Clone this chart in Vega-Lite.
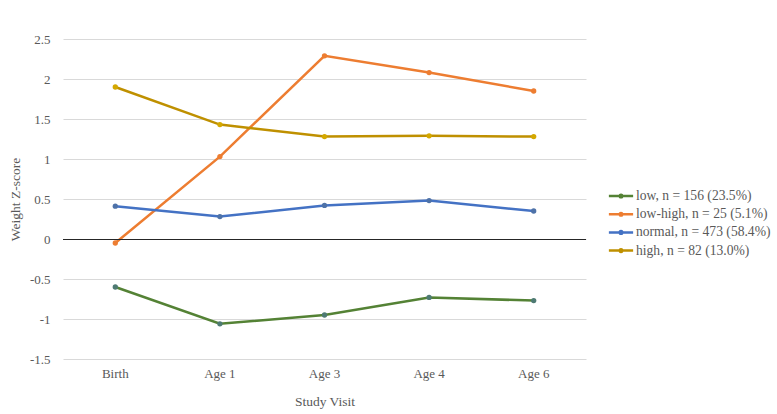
{
  "$schema": "https://vega.github.io/schema/vega-lite/v6.json",
  "width": 523,
  "height": 320,
  "autosize": {"type": "none"},
  "padding": {"left": 63, "top": 39, "right": 191, "bottom": 55},
  "background": "white",
  "config": {
    "view": {"stroke": null},
    "font": "Liberation Serif",
    "axis": {"labelFont": "Liberation Serif", "titleFont": "Liberation Serif", "labelColor": "#595959", "titleColor": "#595959", "labelFontSize": 13, "titleFontSize": 13.5, "titleFontWeight": "normal", "labelOverlap": false},
    "legend": {"labelFont": "Liberation Serif", "labelColor": "#595959", "labelFontSize": 13.6, "labelLimit": 300}
  },
  "data": {"values": [
    {"visit": "Birth", "group": "low, n = 156 (23.5%)", "z": -0.6},
    {"visit": "Age 1", "group": "low, n = 156 (23.5%)", "z": -1.06},
    {"visit": "Age 3", "group": "low, n = 156 (23.5%)", "z": -0.95},
    {"visit": "Age 4", "group": "low, n = 156 (23.5%)", "z": -0.73},
    {"visit": "Age 6", "group": "low, n = 156 (23.5%)", "z": -0.77},
    {"visit": "Birth", "group": "low-high, n = 25 (5.1%)", "z": -0.05},
    {"visit": "Age 1", "group": "low-high, n = 25 (5.1%)", "z": 1.03},
    {"visit": "Age 3", "group": "low-high, n = 25 (5.1%)", "z": 2.29},
    {"visit": "Age 4", "group": "low-high, n = 25 (5.1%)", "z": 2.08},
    {"visit": "Age 6", "group": "low-high, n = 25 (5.1%)", "z": 1.85},
    {"visit": "Birth", "group": "normal, n = 473 (58.4%)", "z": 0.41},
    {"visit": "Age 1", "group": "normal, n = 473 (58.4%)", "z": 0.28},
    {"visit": "Age 3", "group": "normal, n = 473 (58.4%)", "z": 0.42},
    {"visit": "Age 4", "group": "normal, n = 473 (58.4%)", "z": 0.48},
    {"visit": "Age 6", "group": "normal, n = 473 (58.4%)", "z": 0.35},
    {"visit": "Birth", "group": "high, n = 82 (13.0%)", "z": 1.9},
    {"visit": "Age 1", "group": "high, n = 82 (13.0%)", "z": 1.43},
    {"visit": "Age 3", "group": "high, n = 82 (13.0%)", "z": 1.28},
    {"visit": "Age 4", "group": "high, n = 82 (13.0%)", "z": 1.29},
    {"visit": "Age 6", "group": "high, n = 82 (13.0%)", "z": 1.28}
  ]},
  "encoding": {
    "x": {"field": "visit", "type": "ordinal", "sort": ["Birth", "Age 1", "Age 3", "Age 4", "Age 6"], "scale": {"type": "band", "paddingInner": 0, "paddingOuter": 0},
      "axis": {"title": "Study Visit", "domain": false, "ticks": false, "grid": false, "labelAngle": 0, "labelPadding": 8, "titlePadding": 14, "labelFont": "Liberation Serif", "titleFont": "Liberation Serif"}},
    "y": {"field": "z", "type": "quantitative", "scale": {"domain": [-1.5, 2.5], "nice": false, "zero": false},
      "axis": {"title": "Weight Z-score", "values": [-1.5, -1, -0.5, 0, 0.5, 1, 1.5, 2, 2.5], "labelExpr": "datum.value + ''", "domain": false, "ticks": false, "grid": true, "gridColor": "#d9d9d9", "labelPadding": 13, "titlePadding": 7, "labelOverlap": false, "labelFont": "Liberation Serif", "titleFont": "Liberation Serif"}}
  },
  "layer": [
    {
      "mark": {"type": "line", "strokeWidth": 2.5},
      "encoding": {
        "color": {"field": "group", "type": "nominal",
          "scale": {"domain": ["low, n = 156 (23.5%)", "low-high, n = 25 (5.1%)", "normal, n = 473 (58.4%)", "high, n = 82 (13.0%)"], "range": ["#548235", "#ED7D31", "#4472C4", "#BF9000"]},
          "legend": {"title": null, "orient": "none", "legendX": 548, "legendY": 147, "symbolType": "M-1.4,0H1.4M-0.15,0a0.15,0.15 0 1,0 0.3,0a0.15,0.15 0 1,0 -0.3,0", "symbolStrokeWidth": 2.5, "symbolSize": 300, "rowPadding": 1.2, "labelOffset": 5, "labelFont": "Liberation Serif"}}
      }
    },
    {
      "mark": {"type": "circle", "size": 28, "opacity": 1},
      "encoding": {
        "fill": {"field": "group", "type": "nominal",
          "scale": {"domain": ["low, n = 156 (23.5%)", "low-high, n = 25 (5.1%)", "normal, n = 473 (58.4%)", "high, n = 82 (13.0%)"], "range": ["#4E7A73", "#ED7D31", "#4E72A8", "#D4A800"]},
          "legend": null}
      }
    },
    {
      "mark": {"type": "rule", "color": "#262626", "strokeWidth": 1, "yOffset": 0.5},
      "encoding": {"x": {"value": 0}, "x2": {"value": 523}, "y": {"datum": 0}}
    }
  ],
  "resolve": {"scale": {"color": "independent"}}
}
